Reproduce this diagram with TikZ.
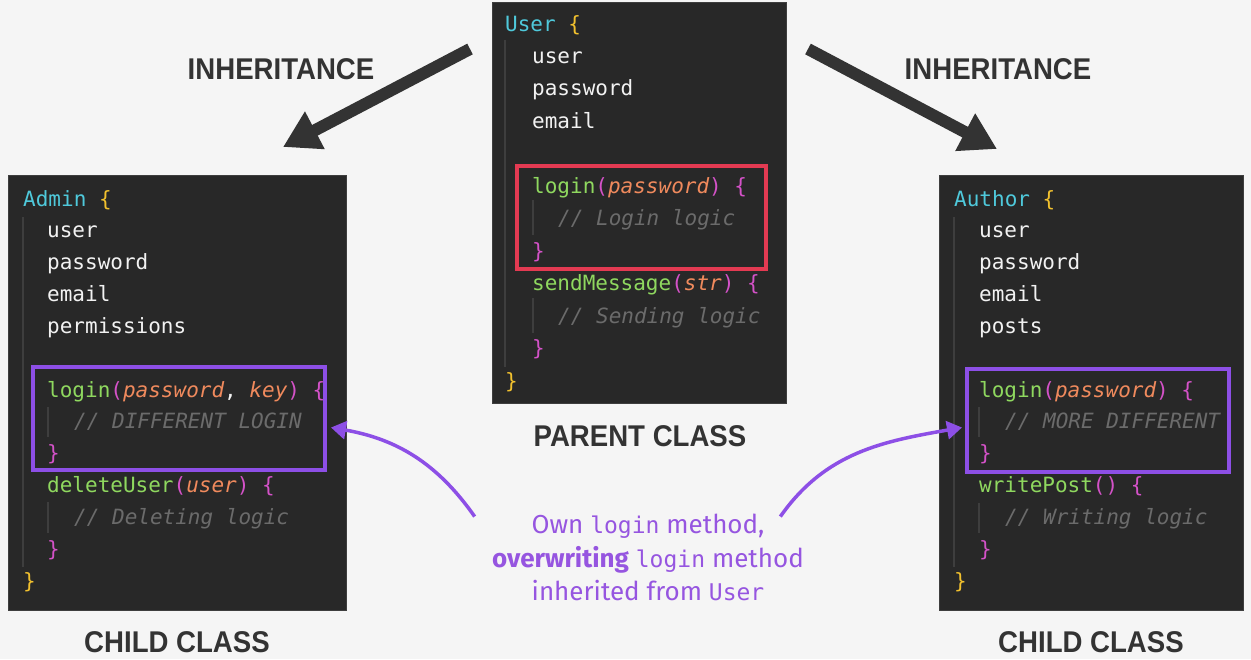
\documentclass[tikz,border=0pt]{standalone}
\usepackage{fontspec}
\setmainfont{Fira Sans}
\setmonofont{DejaVu Sans Mono}
\newfontfamily\headfont[FakeStretch=0.92]{Liberation Sans}
\usetikzlibrary{arrows.meta}
\definecolor{bgcol}{HTML}{F5F5F5}
\definecolor{panelcol}{HTML}{282828}
\definecolor{guidecol}{HTML}{3E3E3E}
\definecolor{clscol}{HTML}{4FC9DB}
\definecolor{yelcol}{HTML}{F2C12E}
\definecolor{fncol}{HTML}{8FD85F}
\definecolor{puncol}{HTML}{D452C8}
\definecolor{prmcol}{HTML}{F08A5D}
\definecolor{cmtcol}{HTML}{6B6B6B}
\definecolor{fldcol}{HTML}{F2F2F2}
\definecolor{redcol}{HTML}{E33A52}
\definecolor{purcol}{HTML}{8D4FE6}
\definecolor{notecol}{HTML}{9655E0}
\definecolor{headcol}{HTML}{333333}
\newcommand\cls[1]{\textcolor{clscol}{#1}}
\newcommand\yb[1]{\textcolor{yelcol}{#1}}
\newcommand\fn[1]{\textcolor{fncol}{#1}}
\newcommand\pu[1]{\textcolor{puncol}{#1}}
\newcommand\prm[1]{\textcolor{prmcol}{\itshape #1}}
\newcommand\cmt[1]{\textcolor{cmtcol}{\itshape #1}}
\newcommand\nm[1]{{\ttfamily\fontsize{23}{25}\selectfont #1}}
\begin{document}
\begin{tikzpicture}[
  x=1pt, y=-1pt,
  panel/.style={fill=panelcol, draw=guidecol, line width=1pt, inner sep=0pt},
  code/.style={anchor=base west, inner sep=0pt, text=fldcol,
    font=\ttfamily\fontsize{21}{25}\selectfont},
  guide/.style={guidecol, line width=1.2pt},
  hibox/.style={draw=#1, line width=4pt, inner sep=0pt, minimum height=103pt},
  head/.style={text=headcol, font=\headfont\bfseries\fontsize{30}{34}\selectfont},
  bigarrow/.style={draw=headcol, line width=12pt, -{Triangle[length=36pt,width=40pt]}},
  purarrow/.style={draw=purcol, line width=3.5pt, -{Triangle[length=15pt,width=18pt]}},
  note/.style={text=notecol, align=center, font=\fontsize{26}{33.5}\selectfont}
]
\useasboundingbox[fill=bgcol] (0,0) rectangle (1251,659);

\node[panel, minimum width=294pt, minimum height=401pt] (parent) at (639,202.5) {};
\node[panel, minimum width=338pt, minimum height=435pt] (admin) at (177,392.5) {};
\node[panel, minimum width=304pt, minimum height=435pt] (author) at (1091,392.5) {};

\draw[guide] (505,40) -- (505,367);
\draw[guide] (533,200) -- (533,235) (533,298) -- (533,333);
\draw[guide] (23,217) -- (23,567);
\draw[guide] (48,407) -- (48,437) (48,502) -- (48,533);
\draw[guide] (954,217) -- (954,567);
\draw[guide] (979,407) -- (979,437) (979,503) -- (979,533);

\node[code] (p1) at (505,31) {\cls{User} \yb{\{}};
\node[code] (p2) at (532,63.5) {user};
\node[code] (p3) at (532,95.9) {password};
\node[code] (p4) at (532,128.4) {email};
\node[code] (p5) at (532,193.3) {\fn{login}\pu{(}\prm{password}\pu{)} \pu{\{}};
\node[code] (p6) at (558,225.7) {\cmt{// Login logic}};
\node[code] (p7) at (532,258.2) {\pu{\}}};
\node[code] (p8) at (532,290.6) {\fn{sendMessage}\pu{(}\prm{str}\pu{)} \pu{\{}};
\node[code] (p9) at (558,323.1) {\cmt{// Sending logic}};
\node[code] (p10) at (532,355.5) {\pu{\}}};
\node[code] (p11) at (505,388) {\yb{\}}};

\node[code] (a1) at (23,206) {\cls{Admin} \yb{\{}};
\node[code] (a2) at (47,237.8) {user};
\node[code] (a3) at (47,269.7) {password};
\node[code] (a4) at (47,301.5) {email};
\node[code] (a5) at (47,333.3) {permissions};
\node[code] (a6) at (47,397) {\fn{login}\pu{(}\prm{password}, \prm{key}\pu{)} \pu{\{}};
\node[code] (a7) at (74,428.8) {\cmt{// DIFFERENT LOGIN}};
\node[code] (a8) at (47,460.6) {\pu{\}}};
\node[code] (a9) at (47,492.5) {\fn{deleteUser}\pu{(}\prm{user}\pu{)} \pu{\{}};
\node[code] (a10) at (74,524.3) {\cmt{// Deleting logic}};
\node[code] (a11) at (47,556.1) {\pu{\}}};
\node[code] (a12) at (23,588) {\yb{\}}};

\node[code] (r1) at (954,206) {\cls{Author} \yb{\{}};
\node[code] (r2) at (979,237.8) {user};
\node[code] (r3) at (979,269.7) {password};
\node[code] (r4) at (979,301.5) {email};
\node[code] (r5) at (979,333.3) {posts};
\node[code] (r6) at (979,397) {\fn{login}\pu{(}\prm{password}\pu{)} \pu{\{}};
\node[code] (r7) at (1005,428.8) {\cmt{// MORE DIFFERENT}};
\node[code] (r8) at (979,460.6) {\pu{\}}};
\node[code] (r9) at (979,492.5) {\fn{writePost}\pu{()} \pu{\{}};
\node[code] (r10) at (1005,524.3) {\cmt{// Writing logic}};
\node[code] (r11) at (979,556.1) {\pu{\}}};
\node[code] (r12) at (954,588) {\yb{\}}};

\node[hibox=redcol, minimum width=249pt] (parlogin) at (641.5,217.5) {};
\node[hibox=purcol, minimum width=292pt] (admlogin) at (179,418.5) {};
\node[hibox=purcol, minimum width=262pt] (autlogin) at (1098,420.5) {};

\node[head] (inhL) at (281,69) {INHERITANCE};
\node[head] (inhR) at (998,69) {INHERITANCE};
\node[head] (parlabel) at (640,436) {PARENT CLASS};
\node[head] (admlabel) at (177,642) {CHILD CLASS};
\node[head] (autlabel) at (1091,642) {CHILD CLASS};

\coordinate (inhL0) at (470,49);
\coordinate (inhL1) at (283,147);
\coordinate (inhR0) at (808,49);
\coordinate (inhR1) at (997,149);
\draw[bigarrow] (inhL0) -- (inhL1);
\draw[bigarrow] (inhR0) -- (inhR1);

\node[note] (note) at (648,557.5) {Own \nm{login} method,\\
  \textbf{overwriting} \nm{login} method\\
  inherited from \nm{User}};

\draw[purarrow] ([xshift=-14pt,yshift=-6pt]note.north west) to[out=125, in=-10]
  ([xshift=4pt,yshift=-9pt]admlogin.east);
\draw[purarrow] ([xshift=-27pt,yshift=-6pt]note.north east) to[out=55, in=190]
  ([xshift=-3pt,yshift=-7pt]autlogin.west);
\end{tikzpicture}
\end{document}
